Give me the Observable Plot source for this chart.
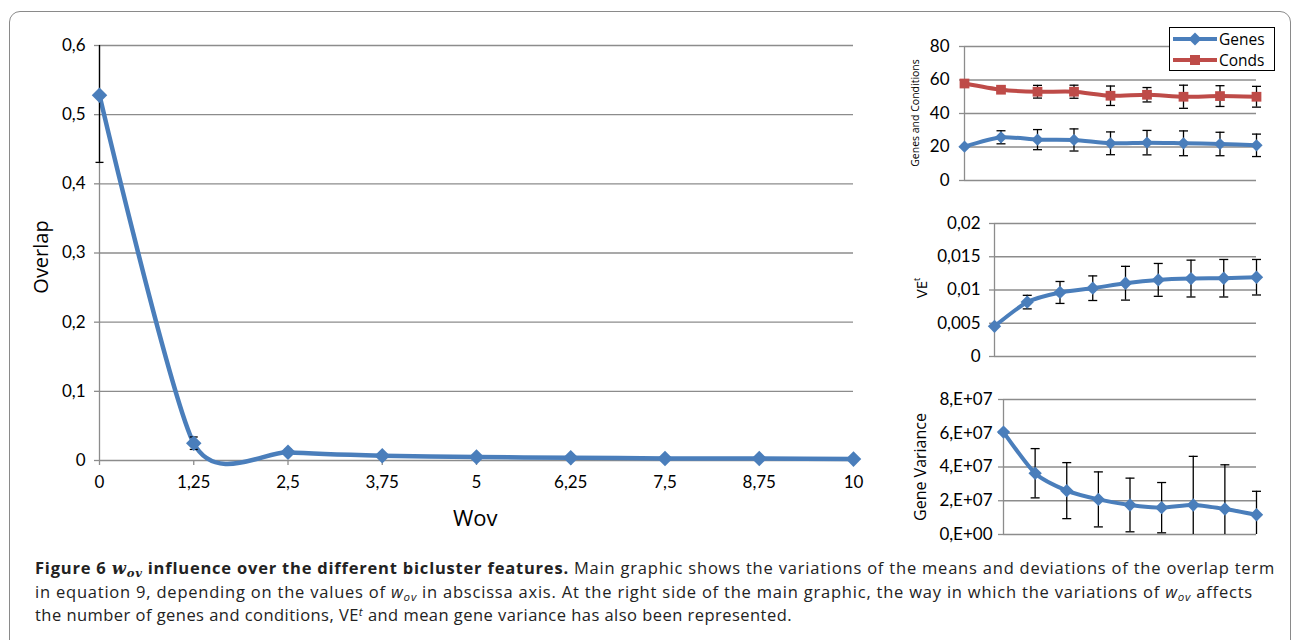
<!DOCTYPE html>
<html>
<head>
<meta charset="utf-8">
<script src="https://cdn.jsdelivr.net/npm/d3@7"></script>
<script src="https://cdn.jsdelivr.net/npm/@observablehq/plot@0.6"></script>
<style>
  html, body { margin: 0; padding: 0; background: #fff; }
  #fig { position: relative; width: 1295px; height: 640px; overflow: hidden; background: #fff; font-family: Lato, sans-serif; }
  .abs { position: absolute; }
  .frame { position: absolute; left: 9px; top: 11px; width: 1282px; height: 720px; border: 1.5px solid #8a8a8a; border-radius: 11px; box-sizing: border-box; }
  .rot { position: absolute; transform: translate(-50%, -50%) rotate(-90deg); white-space: nowrap; color: #000; font-family: "Open Sans", sans-serif; }
  .ttl { position: absolute; white-space: nowrap; color: #000; font-family: "Open Sans", sans-serif; }
  .cap { position: absolute; left: 35px; white-space: nowrap; font-family: "Open Sans", sans-serif; font-size: 16.5px; color: #222; line-height: 1; }
  .cap b { font-weight: 700; }
  .cap .m { font-family: "DejaVu Serif", serif; font-style: italic; font-weight: 700; }
  .cap sub { font-size: 0.7em; vertical-align: -0.25em; line-height: 0; }
  .cap sup { font-size: 0.7em; vertical-align: 0.45em; line-height: 0; }
  #legend { position: absolute; left: 1169px; top: 27px; width: 106px; height: 44px; border: 1px solid #000; background: #fff; box-sizing: border-box; font-family: "Open Sans", sans-serif; font-size: 15.5px; }
  #legend .row { position: absolute; left: 2px; height: 20px; display: flex; align-items: center; }
  #legend span { margin-left: 1px; }
</style>
</head>
<body>
<div id="fig">
  <div class="frame"></div>
</div>
<script>
// ---------------- data ----------------
const wov = [0, 1.25, 2.5, 3.75, 5, 6.25, 7.5, 8.75, 10];
const overlap = [0.528, 0.025, 0.012, 0.007, 0.005, 0.004, 0.003, 0.003, 0.002];
const overlapErr = [0.097, 0.009, 0.004, 0, 0, 0, 0, 0, 0];
const genes = [20.2, 25.8, 24.4, 24.2, 22.2, 22.6, 22.2, 21.8, 21.0];
const genesErr = [0, 3.9, 6.0, 6.6, 6.8, 7.3, 7.4, 7.0, 6.7];
const conds = [57.9, 54.2, 53.0, 53.0, 50.6, 51.2, 50.0, 50.4, 50.0];
const condsErr = [0, 0, 3.8, 3.9, 5.8, 4.3, 6.9, 6.2, 6.2];
const vet = [0.00454, 0.00818, 0.00963, 0.01027, 0.01102, 0.01152, 0.01172, 0.01177, 0.01192];
const vetErr = [0, 0.00102, 0.00165, 0.00185, 0.00254, 0.00247, 0.00277, 0.00282, 0.00267];
const geneVar = [6.07e7, 3.63e7, 2.60e7, 2.08e7, 1.75e7, 1.59e7, 1.75e7, 1.51e7, 1.17e7];
const geneVarErr = [0, 1.46e7, 1.66e7, 1.63e7, 1.59e7, 1.49e7, 2.88e7, 2.62e7, 1.39e7];

const overlapTicks = [0, 0.1, 0.2, 0.3, 0.4, 0.5, 0.6];
const gcTicks = [0, 20, 40, 60, 80];
const vetTicks = [0, 0.005, 0.01, 0.015, 0.02];
const varTicks = [0, 2e7, 4e7, 6e7, 8e7];

// ---------------- helpers ----------------
const BLUE = "#4A7EBB", RED = "#BE4B48", GRID = "#8c8c8c";
const fmtComma = d => String(d).replace(".", ",");
const fmtSci = d => {
  if (d === 0) return "0,E+00";
  const e = Math.floor(Math.log10(d));
  const m = Math.round(d / 10 ** e);
  return `${m},E+${String(e).padStart(2, "0")}`;
};
const capSymbol = { draw(ctx, size) { const w = Math.sqrt(size / Math.PI); ctx.moveTo(-w, 0); ctx.lineTo(w, 0); } };
const rowsOf = (vals, errs) => wov.map((x, i) => ({ x, v: vals[i], e: errs[i] }));

function lineMark(rows, color, lw) {
  return Plot.line(rows, { x: "x", y: "v", stroke: color, strokeWidth: lw, curve: "cardinal", tension: 0.3 });
}
function errMarks(rows, [lo, hi], capR) {
  const withErr = rows.filter(d => d.e > 0);
  const topCaps = withErr.filter(d => d.v + d.e <= hi);
  const botCaps = withErr.filter(d => d.v - d.e >= lo);
  return [
    Plot.ruleX(withErr, { x: "x", y1: d => Math.max(d.v - d.e, lo), y2: d => Math.min(d.v + d.e, hi), stroke: "#000", strokeWidth: 1.3 }),
    Plot.dot(topCaps, { x: "x", y: d => d.v + d.e, symbol: capSymbol, r: capR, stroke: "#000", strokeWidth: 1.3, fill: "none" }),
    Plot.dot(botCaps, { x: "x", y: d => d.v - d.e, symbol: capSymbol, r: capR, stroke: "#000", strokeWidth: 1.3, fill: "none" })
  ];
}
function dotMark(rows, color, symbol, r) {
  return Plot.dot(rows, { x: "x", y: "v", symbol, r, fill: color, stroke: "none" });
}

function place(node, left, top) {
  const wrap = document.createElement("div");
  wrap.className = "abs";
  wrap.style.left = left + "px";
  wrap.style.top = top + "px";
  wrap.appendChild(node);
  document.getElementById("fig").appendChild(wrap);
}
function addText(html, cls, styles) {
  const el = document.createElement("div");
  el.className = cls;
  el.innerHTML = html;
  Object.assign(el.style, styles);
  document.getElementById("fig").appendChild(el);
  return el;
}

// ---------------- main chart ----------------
const mainDomain = [0, 0.6];
const mainRows = rowsOf(overlap, overlapErr);
const mainChart = Plot.plot({
  width: 870, height: 540,
  marginLeft: 99, marginRight: 17, marginTop: 45, marginBottom: 80,
  style: { fontFamily: "Lato, sans-serif", fontSize: "17px", color: "#000", background: "transparent", overflow: "visible" },
  x: { domain: [0, 10] },
  y: { domain: mainDomain },
  marks: [
    Plot.gridY(overlapTicks, { stroke: GRID, strokeOpacity: 1, strokeWidth: 1.3 }),
    Plot.axisY(overlapTicks, { tickSize: 5, tickPadding: 9, stroke: GRID, strokeWidth: 1.3, tickFormat: fmtComma, label: null }),
    Plot.axisX(wov, { tickSize: 5, tickPadding: 10, stroke: GRID, strokeWidth: 1.3, tickFormat: fmtComma, label: null }),
    Plot.ruleX([0], { stroke: GRID, strokeWidth: 1.3 }),
    lineMark(mainRows, BLUE, 4.5),
    ...errMarks(mainRows, mainDomain, 4),
    dotMark(mainRows, BLUE, "diamond2", 7)
  ]
});
place(mainChart, 0, 0);
addText("Overlap", "rot", { left: "40px", top: "257px", fontSize: "20px" });
addText("Wov", "ttl", { left: "453px", top: "502px", fontSize: "22px" });

// ---------------- small charts ----------------
function smallChart({ left, top, width, height, mL, mR, mT, mB, domain, ticks, fmt, pad, series }) {
  const chart = Plot.plot({
    width, height, marginLeft: mL, marginRight: mR, marginTop: mT, marginBottom: mB,
    style: { fontFamily: "Lato, sans-serif", fontSize: "17px", color: "#000", background: "transparent", overflow: "visible" },
    x: { domain: [0, 10] },
    y: { domain },
    marks: [
      Plot.gridY(ticks, { stroke: GRID, strokeOpacity: 1, strokeWidth: 1.3 }),
      Plot.axisY(ticks, { tickSize: 5, tickPadding: pad, stroke: GRID, strokeWidth: 1.3, tickFormat: fmt, label: null }),
      Plot.axisX([], { label: null }),
      Plot.ruleX([0], { stroke: GRID, strokeWidth: 1.3 }),
      ...series
    ]
  });
  place(chart, left, top);
}

const gcDomain = [0, 80];
const genesRows = rowsOf(genes, genesErr);
const condsRows = rowsOf(conds, condsErr);
smallChart({
  left: 880, top: 20, width: 400, height: 180, mL: 84, mR: 24, mT: 26, mB: 20,
  domain: gcDomain, ticks: gcTicks, fmt: fmtComma, pad: 10,
  series: [
    lineMark(genesRows, BLUE, 4),
    lineMark(condsRows, RED, 4),
    ...errMarks(genesRows, gcDomain, 4.5),
    ...errMarks(condsRows, gcDomain, 4.5),
    dotMark(genesRows, BLUE, "diamond2", 5.5),
    dotMark(condsRows, RED, "square", 5.5)
  ]
});
addText("Genes and Conditions", "rot", { left: "915px", top: "113px", fontSize: "10.5px" });

const vetDomain = [0, 0.02];
const vetRows = rowsOf(vet, vetErr);
smallChart({
  left: 880, top: 200, width: 400, height: 180, mL: 114, mR: 24, mT: 23, mB: 24,
  domain: vetDomain, ticks: vetTicks, fmt: fmtComma, pad: 9,
  series: [lineMark(vetRows, BLUE, 4), ...errMarks(vetRows, vetDomain, 4.5), dotMark(vetRows, BLUE, "diamond2", 6)]
});
addText("VE<sup style='font-size:9px;vertical-align:7px'>t</sup>", "rot", { left: "920px", top: "288px", fontSize: "15px" });

const varDomain = [0, 8e7];
const varRows = rowsOf(geneVar, geneVarErr);
smallChart({
  left: 880, top: 380, width: 400, height: 170, mL: 123, mR: 24, mT: 19, mB: 16,
  domain: varDomain, ticks: varTicks, fmt: fmtSci, pad: 6,
  series: [lineMark(varRows, BLUE, 4), ...errMarks(varRows, varDomain, 4.5), dotMark(varRows, BLUE, "diamond2", 6)]
});
addText("Gene Variance", "rot", { left: "920px", top: "467px", fontSize: "16px" });

// ---------------- legend ----------------
const legend = document.createElement("div");
legend.id = "legend";
legend.innerHTML = `
  <div class="row" style="top:1px"><svg width="46" height="20"><line x1="1" x2="45" y1="10" y2="10" stroke="${BLUE}" stroke-width="4"/><path d="M23,3.5 L29.5,10 L23,16.5 L16.5,10 Z" fill="${BLUE}"/></svg><span>Genes</span></div>
  <div class="row" style="top:22px"><svg width="46" height="20"><line x1="1" x2="45" y1="10" y2="10" stroke="${RED}" stroke-width="4"/><rect x="18" y="5" width="10" height="10" fill="${RED}"/></svg><span>Conds</span></div>`;
document.getElementById("fig").appendChild(legend);

// ---------------- caption ----------------
const capLines = [
  { html: "<b>Figure 6 <span class='m'>w<sub>ov</sub></span> influence over the different bicluster features.</b> Main graphic shows the variations of the means and deviations of the overlap term", top: 560, target: 1240 },
  { html: "in equation 9, depending on the values of <i>w<sub>ov</sub></i> in abscissa axis. At the right side of the main graphic, the way in which the variations of <i>w<sub>ov</sub></i> affects", top: 584, target: 1218 },
  { html: "the number of genes and conditions, VE<sup><i>t</i></sup> and mean gene variance has also been represented.", top: 607, target: 757 }
];
const capEls = capLines.map(l => addText(l.html, "cap", { top: l.top + "px" }));
function fitCaption() {
  capEls.forEach((el, i) => {
    el.style.letterSpacing = "0px";
    const w = el.getBoundingClientRect().width;
    const n = el.textContent.length;
    el.style.letterSpacing = ((capLines[i].target - w) / n).toFixed(3) + "px";
  });
}
fitCaption();
if (document.fonts && document.fonts.ready) document.fonts.ready.then(fitCaption);
</script>
</body>
</html>
